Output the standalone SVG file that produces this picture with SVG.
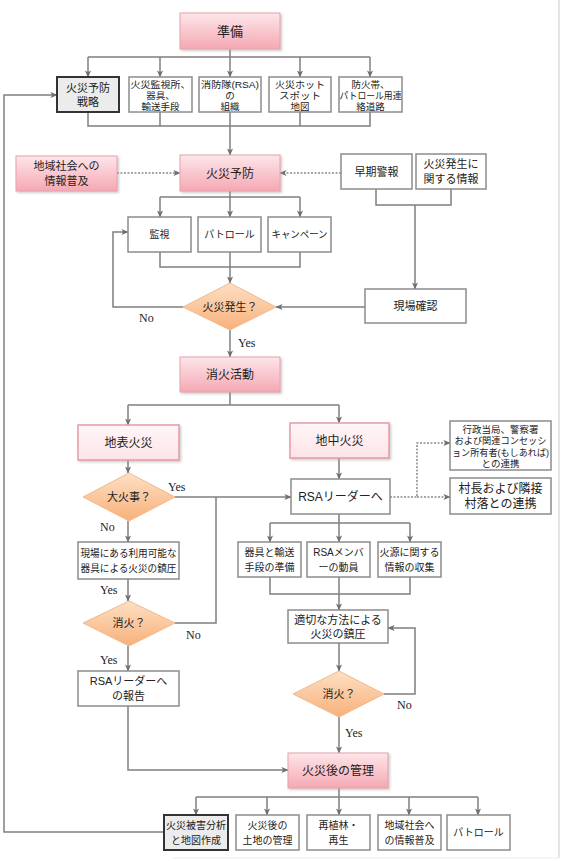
<svg xmlns="http://www.w3.org/2000/svg" width="563" height="861" viewBox="0 0 563 861">
<style>
text{font-family:"Liberation Sans","Noto Sans CJK JP","Noto Sans CJK SC",sans-serif;fill:#222;text-anchor:middle}
.s9{font-size:9.5px}.s10{font-size:10px}.s11{font-size:11px}.s12{font-size:12px}.s13{font-size:13px}
.lab{font-family:"Liberation Serif",serif;font-size:12px;text-anchor:start}
.box{fill:#fff;stroke:#8c8c8c;stroke-width:1.5}
.gbox{fill:#ececec;stroke:#333;stroke-width:2}
.pink{fill:url(#gp);stroke:#e6a3ac;stroke-width:1}
.lpink{fill:url(#glp);stroke:#e69aa6;stroke-width:1.5}
.dia{fill:url(#gd);stroke:#f3b98a;stroke-width:1}
.c{fill:none;stroke:#7f7f7f;stroke-width:1.5}
.ca{fill:none;stroke:#7f7f7f;stroke-width:1.5;marker-end:url(#ah)}
.d{fill:none;stroke:#8a8a8a;stroke-width:1.5;stroke-dasharray:2 1.5}
.da{fill:none;stroke:#8a8a8a;stroke-width:1.5;stroke-dasharray:2 1.5;marker-end:url(#ah)}
</style>
<defs>
<linearGradient id="gp" x1="0" y1="0" x2="0" y2="1"><stop offset="0" stop-color="#fde6ea"/><stop offset="1" stop-color="#f5a8b3"/></linearGradient>
<linearGradient id="glp" x1="0" y1="0" x2="0" y2="1"><stop offset="0" stop-color="#fff6f7"/><stop offset="1" stop-color="#fde4e8"/></linearGradient>
<linearGradient id="gd" x1="0" y1="0" x2="0" y2="1"><stop offset="0" stop-color="#fde0c4"/><stop offset="1" stop-color="#f8b07a"/></linearGradient>
<filter id="sh" x="-10%" y="-10%" width="130%" height="140%"><feDropShadow dx="1.5" dy="1.5" stdDeviation="1" flood-color="#999" flood-opacity="0.5"/></filter>
<marker id="ah" viewBox="0 0 8 8" refX="7.5" refY="4" markerWidth="7" markerHeight="7" markerUnits="userSpaceOnUse" orient="auto"><path d="M0,0.5 L8,4 L0,7.5 L2,4 Z" fill="#6f6f6f"/></marker>
</defs>
<rect width="563" height="861" fill="#fff"/>
<line x1="559" y1="0" x2="559" y2="858" stroke="#dcdcdc" stroke-width="1.5"/>
<line x1="173" y1="858" x2="559" y2="858" stroke="#ececec" stroke-width="1"/>

<g id="connectors">
<path class="c" d="M230,49 V57 M88,57 H370"/>
<path class="ca" d="M88,57 V77"/><path class="ca" d="M160,57 V77"/><path class="ca" d="M230,57 V77"/><path class="ca" d="M300,57 V77"/><path class="ca" d="M370,57 V77"/>
<path class="c" d="M88,112 V126 H370 V112 M160,112 V126 M300,112 V126"/>
<path class="ca" d="M230,112 V155"/>
<path class="da" d="M117,173 H180"/>
<path class="da" d="M341,173 H280"/>
<path class="c" d="M376,189 V205 H451 V189"/>
<path class="ca" d="M415,205 V289"/>
<path class="c" d="M230,191 V197 M160,197 H300"/>
<path class="ca" d="M160,197 V217"/><path class="ca" d="M230,197 V217"/><path class="ca" d="M300,197 V217"/>
<path class="c" d="M160,252 V267 H300 V252"/>
<path class="ca" d="M230,252 V283"/>
<path class="ca" d="M183,307 H113 V232 H128"/>
<path class="ca" d="M365,307 H276"/>
<path class="ca" d="M230,330 V357"/>
<path class="c" d="M230,392 V405 M128,405 H339"/>
<path class="ca" d="M128,405 V425"/><path class="ca" d="M339,405 V423"/>
<path class="ca" d="M128,460 V473"/>
<path class="ca" d="M339,458 V479"/>
<path class="ca" d="M175,497 H291"/>
<path class="c" d="M175,623 H216 V497"/>
<path class="da" d="M390,497 H417 V443 H450"/>
<path class="da" d="M417,497 H450"/>
<path class="ca" d="M128,521 V542"/>
<path class="ca" d="M128,579 V601"/>
<path class="ca" d="M128,646 V671"/>
<path class="ca" d="M128,706 V770 H288"/>
<path class="c" d="M339,514 V523 M270,523 H410"/>
<path class="ca" d="M270,523 V542"/><path class="ca" d="M339,523 V542"/><path class="ca" d="M410,523 V542"/>
<path class="c" d="M270,577 V594 H410 V577"/>
<path class="ca" d="M339,577 V610"/>
<path class="ca" d="M339,643 V671"/>
<path class="ca" d="M384,694 H415 V628 H388"/>
<path class="ca" d="M339,717 V753"/>
<path class="c" d="M339,788 V797 M196,797 H478"/>
<path class="ca" d="M196,797 V815"/><path class="ca" d="M267,797 V815"/><path class="ca" d="M339,797 V815"/><path class="ca" d="M409,797 V815"/><path class="ca" d="M478,797 V815"/>
<path class="ca" d="M164,832 H4 V95 H57"/>
</g>

<g id="n-junbi"><rect class="pink" filter="url(#sh)" x="180" y="13" width="100" height="36"/><text class="s13" x="230" y="36">準備</text></g>

<g id="n-senryaku"><rect class="gbox" x="57" y="77" width="62" height="35"/><text class="s11" x="88" y="92">火災予防</text><text class="s11" x="88" y="106">戦略</text></g>
<g id="n-kanshijo"><rect class="box" x="129" y="77" width="63" height="35"/><text class="s9" x="160.5" y="87.5" textLength="60" lengthAdjust="spacingAndGlyphs">火災監視所、</text><text class="s9" x="160.5" y="98.5">器具、</text><text class="s9" x="160.5" y="109.5">輸送手段</text></g>
<g id="n-rsa"><rect class="box" x="199" y="77" width="62" height="35"/><text class="s9" x="230" y="87.5" textLength="58" lengthAdjust="spacingAndGlyphs">消防隊(RSA)</text><text class="s9" x="230" y="98.5">の</text><text class="s9" x="230" y="109.5">組織</text></g>
<g id="n-hotspot"><rect class="box" x="269" y="77" width="62" height="35"/><text class="s9" x="300" y="87.5" textLength="50" lengthAdjust="spacingAndGlyphs">火災ホット</text><text class="s9" x="300" y="98.5" textLength="42" lengthAdjust="spacingAndGlyphs">スポット</text><text class="s9" x="300" y="109.5">地図</text></g>
<g id="n-bokatai"><rect class="box" x="339" y="77" width="63" height="35"/><text class="s9" x="370.5" y="87.5">防火帯、</text><text class="s9" x="370.5" y="98.5" textLength="62" lengthAdjust="spacingAndGlyphs">パトロール用連</text><text class="s9" x="370.5" y="109.5">絡道路</text></g>

<g id="n-fukyu1"><rect class="pink" filter="url(#sh)" x="16" y="156" width="101" height="35"/><text class="s11" x="66.5" y="170">地域社会への</text><text class="s11" x="66.5" y="185">情報普及</text></g>
<g id="n-yobo"><rect class="pink" filter="url(#sh)" x="180" y="155" width="100" height="36"/><text class="s12" x="230" y="177.5">火災予防</text></g>
<g id="n-sokikeiho"><rect class="box" x="341" y="154" width="71" height="35"/><text class="s11" x="376.5" y="175.5">早期警報</text></g>
<g id="n-joho"><rect class="box" x="416" y="154" width="70" height="35"/><text class="s11" x="451" y="168">火災発生に</text><text class="s11" x="451" y="183">関する情報</text></g>

<g id="n-kanshi"><rect class="box" x="128" y="217" width="63" height="35"/><text class="s10" x="159.5" y="238">監視</text></g>
<g id="n-patrol1"><rect class="box" x="198" y="217" width="63" height="35"/><text class="s10" x="229.5" y="238">パトロール</text></g>
<g id="n-campaign"><rect class="box" x="268" y="217" width="63" height="35"/><text class="s10" x="299.5" y="238" textLength="56" lengthAdjust="spacingAndGlyphs">キャンペーン</text></g>

<g id="n-hassei"><polygon class="dia" points="230,283 276,307 230,330 183,307"/><text class="s11" x="230" y="311">火災発生？</text></g>
<g id="n-genba"><rect class="box" x="365" y="289" width="101" height="34"/><text class="s11" x="415.5" y="310">現場確認</text></g>
<text class="lab" x="139" y="322">No</text>
<text class="lab" x="238" y="347">Yes</text>

<g id="n-shoka"><rect class="pink" filter="url(#sh)" x="180" y="357" width="100" height="35"/><text class="s12" x="230" y="379">消火活動</text></g>
<g id="n-chihyo"><rect class="lpink" filter="url(#sh)" x="78" y="425" width="101" height="35"/><text class="s12" x="128.5" y="447">地表火災</text></g>
<g id="n-chichu"><rect class="lpink" filter="url(#sh)" x="290" y="423" width="99" height="35"/><text class="s12" x="339.5" y="445">地中火災</text></g>
<g id="n-gyosei"><rect class="box" x="450" y="421" width="101" height="49"/><text class="s9" x="500.5" y="432.5">行政当局、警察署</text><text class="s9" x="500.5" y="444" textLength="92" lengthAdjust="spacingAndGlyphs">および関連コンセッシ</text><text class="s9" x="500.5" y="455.5" textLength="97" lengthAdjust="spacingAndGlyphs">ョン所有者(もしあれば)</text><text class="s9" x="500.5" y="467">との連携</text></g>
<g id="n-soncho"><rect class="box" x="450" y="478" width="101" height="36"/><text class="s12" x="500.5" y="493">村長および隣接</text><text class="s12" x="500.5" y="508">村落との連携</text></g>

<g id="n-taikaji"><polygon class="dia" points="129,473 175,497 129,521 83,497"/><text class="s11" x="129" y="501">大火事？</text></g>
<text class="lab" x="168" y="491">Yes</text>
<g id="n-rsaleader"><rect class="box" x="291" y="479" width="99" height="35"/><text class="s12" x="340.5" y="501">RSAリーダーへ</text></g>
<text class="lab" x="100" y="531">No</text>
<g id="n-genbachinatsu"><rect class="box" x="78" y="542" width="101" height="37"/><text class="s10" x="128.5" y="557" textLength="96" lengthAdjust="spacingAndGlyphs">現場にある利用可能な</text><text class="s10" x="128.5" y="572" textLength="96" lengthAdjust="spacingAndGlyphs">器具による火災の鎮圧</text></g>
<g id="n-kigu"><rect class="box" x="238" y="542" width="63" height="35"/><text class="s10" x="269.5" y="556">器具と輸送</text><text class="s10" x="269.5" y="571">手段の準備</text></g>
<g id="n-member"><rect class="box" x="307" y="542" width="63" height="35"/><text class="s10" x="338.5" y="556">RSAメンバ</text><text class="s10" x="338.5" y="571">ーの動員</text></g>
<g id="n-kagen"><rect class="box" x="378" y="542" width="63" height="35"/><text class="s10" x="409.5" y="556" textLength="60" lengthAdjust="spacingAndGlyphs">火源に関する</text><text class="s10" x="409.5" y="571">情報の収集</text></g>
<text class="lab" x="100" y="594">Yes</text>

<g id="n-shoka1"><polygon class="dia" points="129,601 175,623 129,646 83,623"/><text class="s11" x="129" y="627">消火？</text></g>
<text class="lab" x="186" y="639">No</text>
<g id="n-tekisetsu"><rect class="box" x="288" y="610" width="100" height="33"/><text class="s11" x="338" y="624">適切な方法による</text><text class="s11" x="338" y="638">火災の鎮圧</text></g>
<text class="lab" x="100" y="664">Yes</text>
<g id="n-hokoku"><rect class="box" x="78" y="671" width="101" height="35"/><text class="s11" x="128.5" y="685">RSAリーダーへ</text><text class="s11" x="128.5" y="700">の報告</text></g>
<g id="n-shoka2"><polygon class="dia" points="339,671 384,694 339,717 293,694"/><text class="s11" x="339" y="698">消火？</text></g>
<text class="lab" x="397" y="709">No</text>
<text class="lab" x="345" y="737">Yes</text>

<g id="n-kanri"><rect class="pink" filter="url(#sh)" x="288" y="753" width="100" height="35"/><text class="s12" x="338" y="775">火災後の管理</text></g>
<g id="n-higai"><rect class="gbox" x="164" y="815" width="64" height="35"/><text class="s10" x="196" y="829">火災被害分析</text><text class="s10" x="196" y="844">と地図作成</text></g>
<g id="n-tochi"><rect class="box" x="236" y="815" width="63" height="35"/><text class="s10" x="267.5" y="829">火災後の</text><text class="s10" x="267.5" y="844">土地の管理</text></g>
<g id="n-shokurin"><rect class="box" x="307" y="815" width="63" height="35"/><text class="s10" x="338.5" y="829">再植林・</text><text class="s10" x="338.5" y="844">再生</text></g>
<g id="n-fukyu2"><rect class="box" x="378" y="815" width="63" height="35"/><text class="s10" x="409.5" y="829">地域社会へ</text><text class="s10" x="409.5" y="844">の情報普及</text></g>
<g id="n-patrol2"><rect class="box" x="447" y="815" width="63" height="35"/><text class="s10" x="478.5" y="836">パトロール</text></g>
</svg>
